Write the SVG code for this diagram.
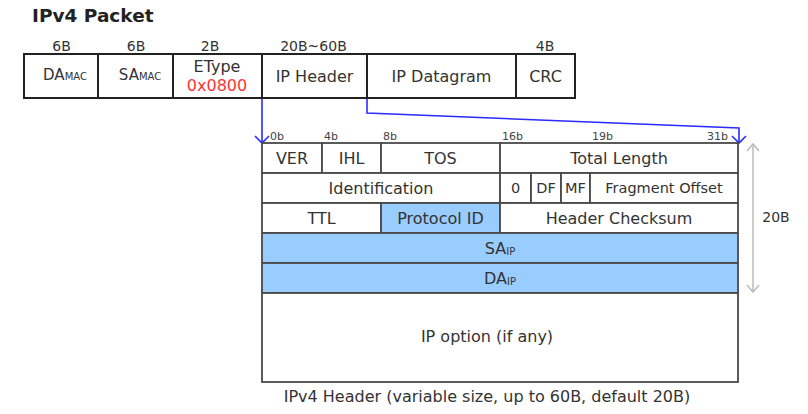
<svg xmlns="http://www.w3.org/2000/svg" width="808" height="414" viewBox="0 0 808 414">
<style>
text{font-family:"DejaVu Sans","Verdana",sans-serif;fill:#333;}
.t{font-size:16px;text-anchor:middle;}
.s{font-size:14.5px;text-anchor:middle;}
.lb{font-size:14px;text-anchor:middle;}
.bit{font-size:11px;fill:#444;}
.sub{font-size:10px;}
.pk{fill:#fff;stroke:#222;stroke-width:2;}
.cell{fill:#fff;stroke:#4a4a4a;stroke-width:1.8;}
.blue{fill:#99CCFF;}
.conn{fill:none;stroke:#2b2bff;stroke-width:1.6;}
.dim{fill:none;stroke:#bbb;stroke-width:1.5;}
</style>
<defs>
<marker id="ab" viewBox="-9 -9 11 18" markerWidth="11" markerHeight="18" refX="0" refY="0" orient="auto" markerUnits="userSpaceOnUse">
<path d="M-7,-7 L0,0 L-7,7" fill="none" stroke="#2b2bff" stroke-width="1.6"/>
</marker>
<marker id="ag" viewBox="-9 -9 11 18" markerWidth="11" markerHeight="18" refX="0" refY="0" orient="auto-start-reverse" markerUnits="userSpaceOnUse">
<path d="M-7,-6 L0,0 L-7,6" fill="none" stroke="#bbb" stroke-width="1.5"/>
</marker>
</defs>
<rect width="808" height="414" fill="#fff"/>
<text x="32" y="22" style="font-size:18.5px;font-weight:bold;fill:#222">IPv4 Packet</text>

<g id="packet">
<text class="lb" x="61.5" y="50.5">6B</text>
<text class="lb" x="136" y="50.5">6B</text>
<text class="lb" x="210" y="50.5">2B</text>
<text class="lb" x="313.5" y="50.5">20B~60B</text>
<text class="lb" x="545" y="50.5">4B</text>
<g id="p-da"><rect class="pk" x="24" y="54" width="74" height="44"/><text class="t" x="65" y="80" style="font-size:15px">DA<tspan class="sub">MAC</tspan></text></g>
<g id="p-sa"><rect class="pk" x="98" y="54" width="75" height="44"/><text class="t" x="140" y="80" style="font-size:15px">SA<tspan class="sub">MAC</tspan></text></g>
<g id="p-etype"><rect class="pk" x="173" y="54" width="89" height="44"/><text class="t" x="217" y="71.5">EType</text><text class="t" x="217" y="90.5" style="fill:#ff3333">0x0800</text></g>
<g id="p-iph"><rect class="pk" x="262" y="54" width="105" height="44"/><text class="t" x="314.5" y="81.5">IP Header</text></g>
<g id="p-dgram"><rect class="pk" x="367" y="54" width="149" height="44"/><text class="t" x="441.5" y="81.5">IP Datagram</text></g>
<g id="p-crc"><rect class="pk" x="516" y="54" width="59" height="44"/><text class="t" x="545.5" y="81.5">CRC</text></g>
</g>

<g id="connectors">
<path class="conn" d="M262,99 L262,143" marker-end="url(#ab)"/>
<path class="conn" d="M367,99 L367,113 L739,128 L739,143" marker-end="url(#ab)"/>
<path class="dim" d="M753,144 L753,292" marker-start="url(#ag)" marker-end="url(#ag)"/>
</g>

<g id="bits">
<text class="bit" x="270" y="139.5">0b</text>
<text class="bit" x="324" y="139.5">4b</text>
<text class="bit" x="383" y="139.5">8b</text>
<text class="bit" x="502" y="139.5">16b</text>
<text class="bit" x="592" y="139.5">19b</text>
<text class="bit" x="707" y="139.5">31b</text>
</g>

<g id="header">
<g id="h-ver"><rect class="cell" x="262" y="143" width="60" height="30"/><text class="t" x="292" y="163.5">VER</text></g>
<g id="h-ihl"><rect class="cell" x="322" y="143" width="59" height="30"/><text class="t" x="351.5" y="163.5">IHL</text></g>
<g id="h-tos"><rect class="cell" x="381" y="143" width="119" height="30"/><text class="t" x="440.5" y="163.5">TOS</text></g>
<g id="h-len"><rect class="cell" x="500" y="143" width="238" height="30"/><text class="t" x="619" y="163.5">Total Length</text></g>
<g id="h-id"><rect class="cell" x="262" y="173" width="238" height="30"/><text class="t" x="381" y="193.5">Identification</text></g>
<g id="h-zero"><rect class="cell" x="500" y="173" width="31" height="30"/><text class="s" x="515.5" y="193">0</text></g>
<g id="h-df"><rect class="cell" x="531" y="173" width="30" height="30"/><text class="s" x="546" y="193">DF</text></g>
<g id="h-mf"><rect class="cell" x="561" y="173" width="29" height="30"/><text class="s" x="575.5" y="193">MF</text></g>
<g id="h-frag"><rect class="cell" x="590" y="173" width="148" height="30"/><text class="s" x="664" y="193">Fragment Offset</text></g>
<g id="h-ttl"><rect class="cell" x="262" y="203" width="119" height="30"/><text class="t" x="321.5" y="223.5">TTL</text></g>
<g id="h-proto"><rect class="cell blue" x="381" y="203" width="119" height="30"/><text class="t" x="440.5" y="223.5">Protocol ID</text></g>
<g id="h-csum"><rect class="cell" x="500" y="203" width="238" height="30"/><text class="t" x="619" y="223.5">Header Checksum</text></g>
<g id="h-sa"><rect class="cell blue" x="262" y="233" width="476" height="30"/><text class="t" x="500" y="253.5">SA<tspan class="sub" dy="1.5">IP</tspan></text></g>
<g id="h-da"><rect class="cell blue" x="262" y="263" width="476" height="30"/><text class="t" x="500" y="283.5">DA<tspan class="sub" dy="1.5">IP</tspan></text></g>
<g id="h-opt"><rect class="cell" x="262" y="293" width="476" height="89"/><text class="t" x="487" y="342">IP option (if any)</text></g>
</g>

<text style="font-size:14px" x="776" y="222" text-anchor="middle">20B</text>
<text class="t" x="487" y="402">IPv4 Header (variable size, up to 60B, default 20B)</text>
</svg>
